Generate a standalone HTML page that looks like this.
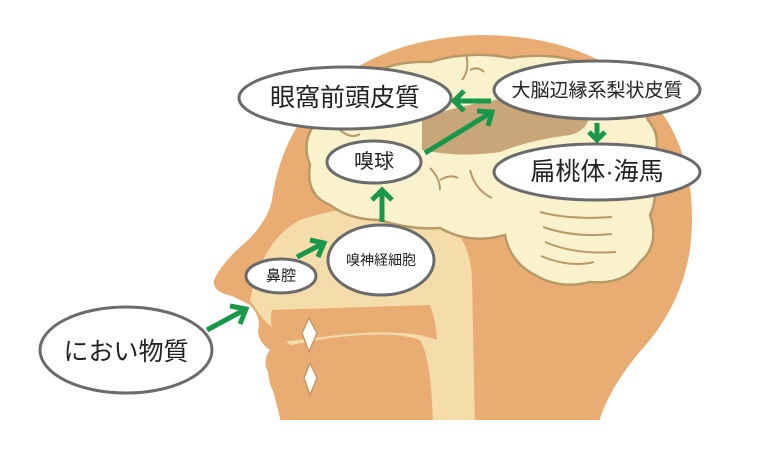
<!DOCTYPE html>
<html><head><meta charset="utf-8"><style>
html,body{margin:0;padding:0;background:#fff;}
svg{display:block}
text{font-family:"Liberation Sans","Noto Sans CJK JP",sans-serif;fill:#222;text-anchor:middle;dominant-baseline:central}
</style></head><body>
<svg width="760" height="476" viewBox="0 0 760 476" xmlns="http://www.w3.org/2000/svg">
<defs><clipPath id="c"><rect x="0" y="0" width="760" height="420"/></clipPath></defs>
<g clip-path="url(#c)">
<path fill="#E9AD74" d="M283,430 L283,400 Q270,395 268,372 Q262,360 270,350 Q258,342 258,330 Q262,318 250,305 Q240,300 232,296 Q212,292 214,280 Q222,262 248,240 Q268,220 272,200 Q280,140 320,95 Q380,38 480,35 Q600,35 660,110 Q700,165 690,250 Q682,300 650,340 Q605,390 597,430 Z"/>
<path fill="#F5DCAB" d="M250,300 Q262,240 300,220 Q360,200 420,210 Q470,222 472,280 L475,430 L433,430 Q432,360 420,340 Q395,330 330,338 L290,345 Q275,330 262,318 Z"/>
<path fill="#E9AD74" d="M272,310 L430,305 Q436,320 437,340 Q400,325 300,340 L278,342 Q268,325 272,310 Z"/>
<path fill="#E9AD74" d="M330,350 Q380,335 415,352 Q430,380 432,430 L348,430 Q345,390 330,370 Z"/>
<path fill="#E9AD74" d="M268,370 Q285,365 296,372 L300,430 L283,430 Z"/>
<path fill="#fff" stroke="#C89868" stroke-width="1.5" d="M309,318 L317,333 L309,352 L302,333 Z"/>
<path fill="#fff" stroke="#C89868" stroke-width="1.5" d="M310,363 L317,378 L310,395 L304,378 Z"/>
<path fill="#F9F2CC" stroke="#B89A68" stroke-width="2.5" d="M330,205 Q305,195 310,165 Q300,140 318,120 Q318,85 360,80 Q390,60 430,62 Q470,50 510,58 Q560,50 600,70 Q640,85 648,120 Q665,140 650,165 Q660,195 650,215 Q660,245 640,262 Q625,285 590,282 Q560,290 535,275 Q510,262 505,235 Q470,245 440,228 Q410,230 380,220 Q350,220 330,205 Z"/>
<path fill="#C9A679" d="M422,118 Q470,102 530,95 Q575,95 590,110 Q590,130 570,135 Q530,140 500,152 Q460,158 422,150 Z"/>
<g stroke="#B89A68" stroke-width="2" fill="none">
<path d="M540,212 Q570,220 612,217"/><path d="M543,227 Q575,238 612,234"/><path d="M545,242 Q575,255 616,252"/><path d="M541,256 Q570,268 594,262"/>
<path d="M466,54 Q470,70 462,80 M470,70 Q478,66 484,72"/>
<path d="M338,128 Q350,140 360,134"/><path d="M430,168 Q440,178 440,190 M440,180 Q450,174 458,178"/>
<path d="M470,170 Q475,190 492,198"/>
</g>
</g>
<g fill="#fff" stroke="#6b6b6b" stroke-width="3">
<ellipse cx="345" cy="98" rx="106" ry="31"/>
<ellipse cx="597" cy="90" rx="103" ry="29"/>
<ellipse cx="597" cy="172" rx="103" ry="28"/>
<ellipse cx="374" cy="162" rx="47" ry="21"/>
<ellipse cx="381" cy="260" rx="53" ry="35"/>
<ellipse cx="281" cy="276" rx="35" ry="17"/>
<ellipse cx="126" cy="350" rx="86" ry="43"/>
</g>
<text x="345" y="98" font-size="25">眼窩前頭皮質</text>
<text x="597" y="91" font-size="19">大脳辺縁系梨状皮質</text>
<text x="597" y="172" font-size="25">扁桃体·海馬</text>
<text x="374" y="162" font-size="20">嗅球</text>
<text x="381" y="260" font-size="14">嗅神経細胞</text>
<text x="281" y="276" font-size="15">鼻腔</text>
<text x="126" y="352" font-size="25">におい物質</text>
<g stroke="#17984A" stroke-width="5" fill="none">
<path d="M207,330 L246,309 M230,306 L246,309 L240,324"/>
<path d="M297,257 L324,243 M310,240 L324,243 L318,257"/>
<path d="M382,222 L382,190 M372,200 L382,190 L392,200"/>
<path d="M425,153 L492,112 M477,111 L492,112 L488,126"/>
<path d="M491,101 L454,101 M464,91 L454,101 L464,111"/>
<path d="M597,123 L597,140 M589,132 L597,140 L605,132"/>
</g>
</svg>
</body></html>
